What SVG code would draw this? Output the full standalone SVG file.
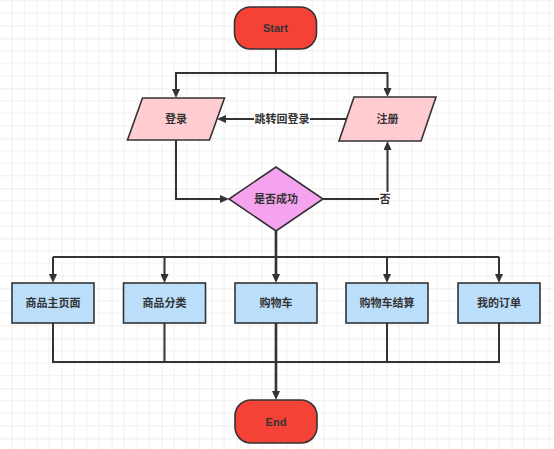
<svg xmlns="http://www.w3.org/2000/svg" width="554" height="449" viewBox="0 0 554 449">
<defs>
<pattern id="grid" patternUnits="userSpaceOnUse" x="11.7" y="38.3" width="50" height="50">
<path d="M12.5 0V50M25 0V50M37.5 0V50M0 12.5H50M0 25H50M0 37.5H50" stroke="#f0f0f0" stroke-width="1" fill="none"/>
<path d="M0 0V50M0 0H50" stroke="#e6e6e6" stroke-width="1.3" fill="none"/>
</pattern>
<marker id="arr" markerUnits="userSpaceOnUse" markerWidth="10" markerHeight="8" refX="1" refY="4" orient="auto">
<path d="M0,0 L9,4 L0,8 z" fill="#333"/>
</marker>
<style>
.term{fill:#f44336;stroke:#333;stroke-width:1.6}
.io{fill:#ffccd2;stroke:#333;stroke-width:1.6}
.dec{fill:#f5a3ef;stroke:#333;stroke-width:1.6}
.proc{fill:#bbdefb;stroke:#333;stroke-width:1.6}
.t{font-family:"Liberation Sans","Noto Sans CJK SC",sans-serif;font-size:11px;font-weight:bold;fill:#333;text-anchor:middle;dominant-baseline:central}
.e{fill:none;stroke:#333;stroke-width:2}
.ea{fill:none;stroke:#333;stroke-width:2;marker-end:url(#arr)}
.lbl{fill:#fff}
</style>
</defs>
<rect width="554" height="449" fill="#fff"/>
<rect width="554" height="449" fill="url(#grid)"/>

<g id="connectors">
<path class="ea" d="M276 49V73H176V90"/>
<path class="ea" d="M276 73H387.5V89"/>
<path class="ea" d="M346 119H225"/>
<path class="ea" d="M176 140V199H221"/>
<path class="ea" d="M323 199H387.5V149"/>
<path class="ea" d="M276 231V275" style="stroke-width:2.6"/>
<path class="e" d="M53 257H499"/>
<path class="ea" d="M53 257V275"/>
<path class="ea" d="M164.5 257V275"/>
<path class="ea" d="M387 257V275"/>
<path class="ea" d="M499 257V275"/>
<path class="e" d="M53 323V362H499V323"/>
<path class="e" d="M164.5 323V362"/>
<path class="e" d="M387 323V362"/>
<path class="ea" d="M276 323V392" style="stroke-width:2.6"/>
<rect class="lbl" x="254" y="112" width="56" height="14"/>
<text class="t" x="282" y="119">跳转回登录</text>
<rect class="lbl" x="379" y="192" width="12" height="14"/>
<text class="t" x="385" y="199">否</text>
</g>

<g id="start">
<rect class="term" x="234.5" y="7" width="82" height="42" rx="16"/>
<text class="t" x="275.5" y="28">Start</text>
</g>
<g id="login">
<polygon class="io" points="142.5,98 224.5,98 209.5,140 127.5,140"/>
<text class="t" x="176" y="119">登录</text>
</g>
<g id="register">
<polygon class="io" points="354,97 436,97 421,141 339,141"/>
<text class="t" x="387.5" y="119">注册</text>
</g>
<g id="decision">
<polygon class="dec" points="276,167 323,199 276,231 229,199"/>
<text class="t" x="276" y="199">是否成功</text>
</g>
<g id="home">
<rect class="proc" x="12" y="283" width="82" height="40"/>
<text class="t" x="53" y="303">商品主页面</text>
</g>
<g id="category">
<rect class="proc" x="123.5" y="283" width="82" height="40"/>
<text class="t" x="164.5" y="303">商品分类</text>
</g>
<g id="cart">
<rect class="proc" x="235" y="283" width="82" height="40"/>
<text class="t" x="276" y="303">购物车</text>
</g>
<g id="checkout">
<rect class="proc" x="346" y="283" width="82" height="40"/>
<text class="t" x="387" y="303">购物车结算</text>
</g>
<g id="orders">
<rect class="proc" x="458" y="283" width="82" height="40"/>
<text class="t" x="499" y="303">我的订单</text>
</g>
<g id="end">
<rect class="term" x="235" y="400" width="82" height="43" rx="16"/>
<text class="t" x="276" y="421.5">End</text>
</g>
</svg>
